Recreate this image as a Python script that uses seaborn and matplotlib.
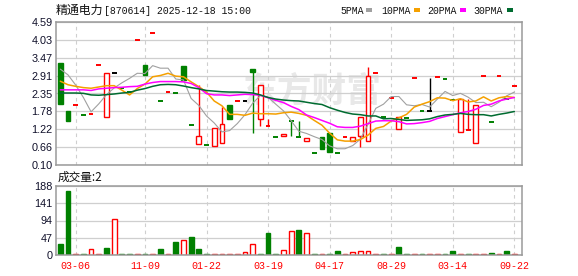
import matplotlib
matplotlib.use("Agg")
import matplotlib.pyplot as plt
from matplotlib.patches import Rectangle
import seaborn as sns
import pandas as pd

# ---------------- data ----------------
opens = [3.30, 1.80, 1.97, 1.68, 1.70, 3.24, 1.62, 2.98, 2.51, 2.40,
         4.02, 3.24, 4.23, 2.11, 2.39, 2.36, 3.21, 1.35, 0.75, 0.72,
         0.69, 0.79, 1.97, 2.11, 2.11, 3.10, 1.53, 1.32, 0.97, 1.02,
         1.48, 0.97, 0.84, 0.48, 0.98, 1.09, 0.48, 0.97, 0.86, 1.00,
         0.86, 2.99, 1.60, 2.19, 1.22, 1.59, 2.82, 1.80, 1.80, 2.85,
         2.79, 2.14, 1.13, 1.20, 0.78, 2.88, 1.44, 2.88, 2.18, 2.57]
highs = [3.30, 1.80, 1.97, 1.68, 1.70, 3.24, 2.98, 2.98, 2.51, 2.40,
         4.02, 3.24, 4.23, 2.11, 2.39, 2.36, 3.21, 1.35, 2.60, 0.72,
         1.25, 1.93, 1.97, 2.11, 2.11, 3.10, 2.60, 1.53, 0.97, 1.08,
         1.48, 1.48, 0.94, 0.48, 0.98, 1.09, 0.48, 0.97, 0.97, 1.60,
         3.17, 2.99, 1.60, 2.19, 1.60, 1.59, 2.82, 1.80, 2.82, 2.85,
         2.79, 2.14, 2.18, 2.18, 1.97, 2.88, 1.44, 2.88, 2.18, 2.57]
lows = [2.03, 1.49, 1.97, 1.68, 1.70, 3.24, 1.62, 2.98, 2.51, 2.40,
        4.02, 2.93, 4.23, 2.11, 2.39, 2.36, 2.76, 1.35, 0.75, 0.72,
        0.69, 0.79, 1.53, 2.11, 2.11, 1.12, 1.32, 1.32, 0.97, 1.02,
        1.01, 0.97, 0.84, 0.48, 0.61, 0.52, 0.48, 0.97, 0.86, 0.68,
        0.86, 2.99, 1.60, 2.19, 1.22, 1.59, 2.82, 1.80, 1.80, 2.85,
        2.79, 2.14, 1.13, 1.20, 0.78, 2.88, 1.44, 2.88, 2.18, 2.57]
closes = [2.03, 1.49, 1.97, 1.68, 1.70, 3.24, 2.98, 2.98, 2.51, 2.40,
          4.02, 2.93, 4.23, 2.11, 2.39, 2.36, 2.76, 1.35, 1.00, 0.72,
          1.25, 1.40, 1.53, 2.11, 2.11, 3.03, 2.60, 1.32, 0.97, 1.08,
          1.48, 0.97, 0.94, 0.48, 0.61, 0.52, 0.48, 0.97, 0.97, 1.60,
          2.89, 2.99, 1.60, 2.19, 1.60, 1.59, 2.82, 1.80, 1.80, 2.85,
          2.79, 2.14, 2.18, 1.20, 1.97, 2.88, 1.44, 2.88, 2.18, 2.57]
candle_dir = "ggrgrrrkgg" "rgrgrgggrg" "rrgrkgrrgr" "ggrggggrrr" "rrgrrgrgkr" "ggrrrrgrgr"

volumes = [30, 175, 2, 2, 15, 2, 19, 99, 2, 2,
           2, 2, 2, 16, 2, 36, 40, 49, 16, 2,
           2, 2, 2, 2, 7, 29, 2, 60, 2, 13,
           65, 68, 59, 2, 2, 2, 11, 2, 7, 10,
           10, 2, 2, 2, 22, 2, 2, 2, 2, 2,
           2, 11, 2, 2, 2, 2, 5, 2, 11, 2]
volume_dir = "ggrgrrgrgg" "rgrgrgrggg" "rrrrrrgggr" "rgrgrggrrr" "rrgrggrgrr" "ggrgrrgrgr"

ma5 = [3.11, 2.93, 2.61, 2.22, 1.77, 2.02, 2.31, 2.52, 2.68, 2.82,
       2.98, 2.97, 3.22, 3.14, 3.14, 2.80, 2.77, 2.19, 1.97, 1.64,
       1.42, 1.14, 1.18, 1.40, 1.68, 2.04, 2.28, 2.23, 2.01, 1.80,
       1.49, 1.16, 1.09, 0.99, 0.90, 0.70, 0.61, 0.61, 0.71, 0.91,
       1.38, 1.88, 2.01, 2.25, 2.25, 1.99, 1.96, 2.00, 1.92, 2.17,
       2.41, 2.28, 2.35, 2.23, 2.06, 2.07, 1.93, 2.07, 2.27, 2.39]
ma10 = [2.73, 2.62, 2.57, 2.53, 2.51, 2.55, 2.59, 2.59, 2.45, 2.30,
        2.50, 2.64, 2.87, 2.91, 2.98, 2.89, 2.87, 2.71, 2.56, 2.39,
        2.11, 1.96, 1.69, 1.69, 1.66, 1.73, 1.71, 1.71, 1.70, 1.74,
        1.76, 1.72, 1.66, 1.50, 1.35, 1.10, 0.89, 0.85, 0.85, 0.90,
        1.04, 1.25, 1.31, 1.48, 1.58, 1.69, 1.92, 2.01, 2.09, 2.21,
        2.20, 2.12, 2.18, 2.08, 2.11, 2.24, 2.11, 2.21, 2.25, 2.22]
ma20 = [2.46, 2.46, 2.46, 2.46, 2.44, 2.49, 2.51, 2.53, 2.54, 2.56,
        2.57, 2.64, 2.69, 2.72, 2.72, 2.72, 2.71, 2.66, 2.53, 2.34,
        2.30, 2.30, 2.28, 2.30, 2.32, 2.31, 2.29, 2.21, 2.13, 2.06,
        1.94, 1.84, 1.67, 1.59, 1.50, 1.41, 1.30, 1.28, 1.28, 1.32,
        1.40, 1.48, 1.49, 1.49, 1.46, 1.39, 1.40, 1.43, 1.47, 1.56,
        1.62, 1.68, 1.74, 1.78, 1.85, 1.97, 2.01, 2.11, 2.17, 2.22]
ma30 = [2.36, 2.36, 2.36, 2.35, 2.30, 2.29, 2.31, 2.33, 2.36, 2.38,
        2.45, 2.50, 2.57, 2.62, 2.63, 2.62, 2.58, 2.53, 2.49, 2.44,
        2.42, 2.40, 2.39, 2.39, 2.38, 2.36, 2.30, 2.22, 2.17, 2.14,
        2.12, 2.11, 2.07, 2.03, 2.00, 1.90, 1.82, 1.75, 1.70, 1.68,
        1.64, 1.64, 1.55, 1.56, 1.53, 1.50, 1.51, 1.52, 1.55, 1.62,
        1.67, 1.69, 1.72, 1.69, 1.68, 1.68, 1.64, 1.69, 1.73, 1.78]

date_ticks = [2, 11, 19, 27, 35, 43, 51, 59]
date_labels = ["03-06", "11-09", "01-22", "03-19", "04-17", "08-29", "03-14", "09-22"]
price_ticks = [0.10, 0.66125, 1.2225, 1.78375, 2.345, 2.90625, 3.4675, 4.02875, 4.59]
price_labels = ["0.10", "0.66", "1.22", "1.78", "2.35", "2.91", "3.47", "4.03", "4.59"]
vol_ticks = [0, 47, 94, 141, 188]
vol_labels = ["0", "47", "94", "141", "188"]
ma_names = ["5PMA", "10PMA", "20PMA", "30PMA"]

title_cn = "精通电力"
title_rest = "[870614] 2025-12-18 15:00"
vol_title = "成交量:2"
watermark = "东方财富"

# ---------------- styling ----------------
sns.set_theme(style="white")
plt.rcParams["font.family"] = ["Liberation Sans", "DejaVu Sans"]

W, H = 578, 276
fig = plt.figure(figsize=(W / 100, H / 100), dpi=100)
fig.patch.set_facecolor("white")

L, R = 56, 522
ax1 = fig.add_axes([L / W, (H - 165) / H, (R - L) / W, (165 - 22) / H])
ax2 = fig.add_axes([L / W, (H - 255) / H, (R - L) / W, (255 - 186) / H])

RED, GREEN, BLACK = "#ff0000", "#008000", "#000000"
cmap = {"r": RED, "g": GREEN, "k": BLACK}
ma_colors = ["#a0a0a0", "#f5a000", "#ff00ff", "#006b30"]
SPINE = "#9a9a9a"
GRID = "#cfcfcf"
n = len(closes)
xs = list(range(n))
BW = 0.62

for ax in (ax1, ax2):
    ax.set_facecolor("white")
    ax.set_xlim(-0.56, 60.0)
    for s in ax.spines.values():
        s.set_color(SPINE)
        s.set_linewidth(1.1)
    ax.set_xticks(date_ticks)
    ax.tick_params(axis="both", length=0)
    ax.set_axisbelow(True)
    ax.yaxis.grid(True, color=GRID, linewidth=0.9, linestyle="-", zorder=0)
    ax.xaxis.grid(True, color=GRID, linewidth=0.8, linestyle=(0, (3.2, 3.2)), zorder=0)

# price panel
ax1.set_ylim(0.10, 4.59)
ax1.set_yticks(price_ticks)
ax1.set_yticklabels(price_labels)
ax1.set_xticklabels([])
ax1.tick_params(axis="y", pad=2.5, labelsize=7.8, labelcolor="#10102a")

ax1.text(312 / W, 1 - 91 / H, watermark, transform=fig.transFigure, fontsize=25,
         fontweight="bold", color="#e8e8e8", family=["Noto Sans CJK SC"],
         ha="center", va="center", zorder=0.5)

for i in xs:
    c = cmap[candle_dir[i]]
    o, hi, lo, cl = opens[i], highs[i], lows[i], closes[i]
    top, bot = max(o, cl), min(o, cl)
    if hi > top:
        ax1.vlines(i, top, hi, color=c, linewidth=1.0, zorder=2)
    if lo < bot:
        ax1.vlines(i, lo, bot, color=c, linewidth=1.0, zorder=2)
    if top - bot < 0.005:
        ax1.hlines(cl, i - BW / 2, i + BW / 2, color=c, linewidth=1.4, zorder=2)
    else:
        face = "white" if candle_dir[i] == "r" else c
        ax1.add_patch(Rectangle((i - BW / 2, bot), BW, top - bot, facecolor=face,
                                edgecolor=c, linewidth=1.0, zorder=2))

ma_df = pd.DataFrame({"idx": xs, "5PMA": ma5, "10PMA": ma10, "20PMA": ma20, "30PMA": ma30})
for name, col in zip(ma_names, ma_colors):
    lw = 0.8 if name == "5PMA" else 1.1
    sns.lineplot(data=ma_df, x="idx", y=name, ax=ax1, color=col, linewidth=lw, zorder=3)
ax1.set_xlabel("")
ax1.set_ylabel("")
ax1.set_xlim(-0.56, 60.0)

# volume panel
ax2.set_ylim(0, 188)
ax2.set_yticks(vol_ticks)
ax2.set_yticklabels(vol_labels)
ax2.tick_params(axis="y", pad=2.5, labelsize=7.8, labelcolor="#10102a")
faces = ["white" if d == "r" else GREEN for d in volume_dir]
edges = [RED if d == "r" else GREEN for d in volume_dir]
ax2.bar(xs, volumes, width=BW, color=faces, edgecolor=edges, linewidth=1.0, zorder=2)
ax2.set_xticklabels(date_labels, family=["Liberation Mono"], fontsize=7.2, color=RED)
ax2.tick_params(axis="x", pad=4.5)

# texts
ty = 1 - 10.5 / H
fig.text(55.5 / W, ty, title_cn, family=["Noto Sans CJK SC"], fontsize=8.6, va="center", ha="left", color="#111111")
fig.text(104.5 / W, ty, title_rest, family=["Liberation Mono"], fontsize=7.1, va="center", ha="left", color="#111111")

leg_x = [340, 381, 427, 473]
sq_x = [366, 414, 460, 507]
for name, col, lx, sx in zip(ma_names, ma_colors, leg_x, sq_x):
    fig.text(lx / W, ty, name, family=["Liberation Mono"], fontsize=7.1, va="center", ha="left", color="#111111")
    fig.patches.append(Rectangle((sx / W, 1 - 12 / H), 6 / W, 4 / H, transform=fig.transFigure,
                                 facecolor=col, edgecolor="none"))

fig.text(57.5 / W, 1 - 177.5 / H, vol_title, family=["Noto Sans CJK SC"], fontsize=8.4, va="center", ha="left", color="#111111")

fig.savefig("out.png", dpi=100, facecolor="white")
